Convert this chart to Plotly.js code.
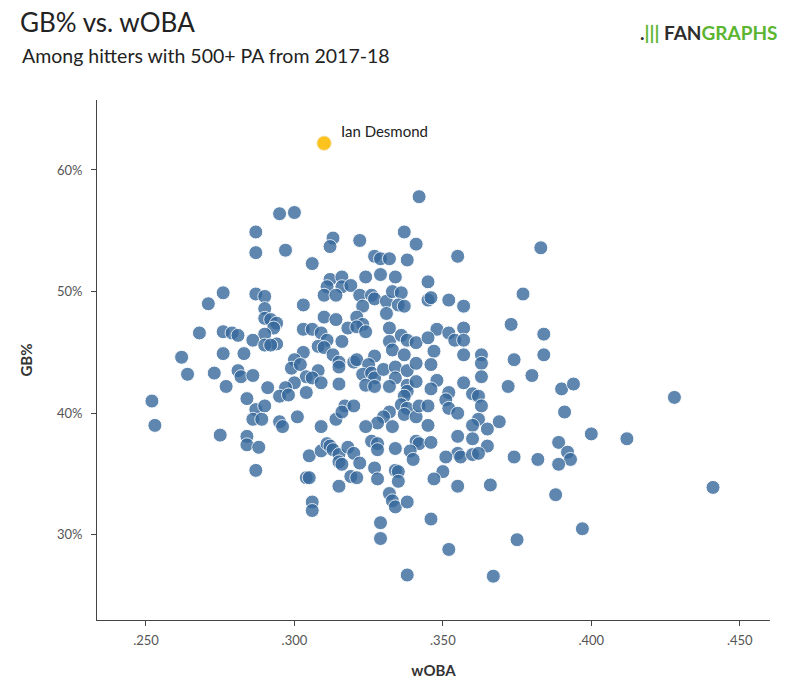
<!DOCTYPE html>
<html><head><meta charset="utf-8">
<script src="https://cdn.plot.ly/plotly-3.0.1.min.js"></script>
<style>body{margin:0;background:#fff}#chart{width:800px;height:700px}</style>
</head><body><div id="chart"></div>
<script>
const woba = [
.295,.300,.287,.287,.297,.313,.312,.306,.312,.316,
.342,.337,.322,.341,.327,.329,.332,.338,.355,.324,
.329,.334,.345,.383,.276,.271,.268,.276,.279,.281,
.262,.276,.283,.264,.273,.281,.282,.277,.252,.253,
.284,.287,.290,.311,.316,.319,.310,.314,.290,.303,
.290,.292,.294,.293,.310,.314,.290,.286,.294,.290,
.292,.303,.306,.309,.311,.308,.310,.316,.318,.303,
.300,.299,.302,.313,.315,.315,.320,.286,.308,.304,
.306,.309,.300,.297,.295,.298,.291,.304,.315,.287,
.290,.286,.289,.295,.296,.301,.309,.314,.317,.316,
.322,.326,.323,.327,.331,.333,.336,.335,.337,.331,
.345,.346,.352,.357,.321,.323,.321,.324,.332,.332,
.336,.338,.341,.333,.348,.352,.354,.357,.345,.347,
.357,.337,.327,.321,.325,.323,.326,.327,.324,.327,
.330,.334,.338,.341,.346,.334,.332,.338,.338,.341,
.337,.348,.346,.357,.352,.351,.352,.355,.336,.338,
.337,.341,.342,.345,.332,.330,.328,.324,.333,.345,
.320,.377,.373,.384,.357,.363,.363,.374,.384,.363,
.380,.372,.390,.394,.428,.360,.362,.363,.391,.362,
.360,.365,.369,.400,.275,.284,.284,.288,.305,.309,
.311,.312,.313,.315,.315,.316,.318,.319,.304,.305,
.315,.306,.306,.287,.326,.328,.328,.334,.341,.342,
.339,.340,.346,.355,.355,.356,.351,.320,.322,.327,
.321,.328,.334,.335,.335,.350,.347,.355,.332,.333,
.334,.338,.329,.346,.329,.352,.338,.360,.365,.360,
.362,.374,.382,.389,.392,.393,.389,.412,.366,.388,
.441,.397,.375,.367
];
const gbPct = [
56.4,56.5,54.9,53.2,53.4,54.4,53.7,52.3,51.0,51.2,
57.8,54.9,54.2,53.9,52.9,52.7,52.7,52.6,52.9,51.2,
51.4,51.2,50.8,53.6,49.9,49.0,46.6,46.7,46.6,46.4,
44.6,44.9,44.9,43.2,43.3,43.5,43.0,42.2,41.0,39.0,
41.2,49.8,49.6,50.4,50.4,50.5,49.7,49.7,48.6,48.9,
47.8,47.7,47.4,47.0,47.9,47.7,46.5,46.0,45.7,45.6,
45.6,46.9,46.9,46.6,46.0,45.5,45.4,45.9,47.0,45.0,
44.4,43.7,44.0,44.8,44.2,43.8,44.2,43.1,43.5,43.0,
42.9,42.5,42.5,42.1,41.4,41.5,42.1,41.7,42.4,40.3,
40.6,39.5,39.5,39.3,38.9,39.7,38.9,39.5,40.6,40.1,
49.7,49.7,48.8,49.4,49.2,50.0,49.9,48.9,48.8,48.2,
49.3,49.5,49.3,48.8,47.9,47.3,47.1,46.7,47.0,45.9,
46.4,46.0,45.8,45.2,46.9,46.6,46.0,47.0,46.2,45.1,
44.8,44.8,44.7,44.4,44.0,43.2,43.3,42.9,42.3,42.2,
43.6,43.8,43.5,44.1,44.0,42.9,42.2,42.3,41.8,42.6,
41.4,42.7,42.0,42.5,41.7,41.1,40.4,40.0,40.7,40.4,
39.9,39.7,40.6,40.6,40.1,39.7,39.2,38.9,38.9,39.0,
40.6,49.8,47.3,46.5,46.0,44.8,44.1,44.4,44.8,43.0,
43.1,42.2,42.0,42.4,41.3,41.6,41.4,40.6,40.1,39.5,
39.0,38.7,39.3,38.3,38.2,38.1,37.4,37.2,36.5,36.9,
37.5,37.3,37.0,36.6,36.0,35.8,37.2,34.8,34.7,34.7,
34.0,32.7,32.0,35.3,37.7,37.5,37.0,37.1,37.7,37.5,
36.9,36.2,37.6,38.1,36.7,36.4,36.4,36.7,35.9,35.5,
34.7,34.6,35.3,35.2,34.4,35.2,34.6,34.0,33.4,32.8,
32.3,32.7,31.0,31.3,29.7,28.8,26.7,37.9,37.3,36.6,
36.7,36.4,36.2,37.6,36.8,36.2,35.8,37.9,34.1,33.3,
33.9,30.5,29.6,26.6
];
const highlightName = ['Ian Desmond'];
const highlightWoba = [0.310];
const highlightGb = [62.2];
const xTickVals = [0.25, 0.30, 0.35, 0.40, 0.45];
const xTickText = ['.250', '.300', '.350', '.400', '.450'];
const yTickVals = [30, 40, 50, 60];
const yTickText = ['30%', '40%', '50%', '60%'];

const FONT = 'Lato, "Open Sans", sans-serif';

const traces = [
  {
    type: 'scatter', mode: 'markers', x: woba, y: gbPct, hoverinfo: 'x+y',
    marker: {size: 14, color: '#36699c', opacity: 0.8, line: {color: '#ffffff', width: 1}},
    showlegend: false
  },
  {
    type: 'scatter', mode: 'markers', x: highlightWoba, y: highlightGb, text: highlightName,
    marker: {size: 14, color: '#fcc31c', opacity: 1, line: {color: '#f2d98a', width: 1}},
    showlegend: false
  }
];

const layout = {
  width: 800, height: 700,
  paper_bgcolor: '#ffffff', plot_bgcolor: '#ffffff',
  margin: {l: 97, r: 30, t: 100, b: 80},
  font: {family: FONT, color: '#333'},
  title: {text: 'GB% vs. wOBA', x: 20/800, xanchor: 'left', xref: 'container',
          y: 1 - 23/700, yanchor: 'middle', yref: 'container',
          font: {family: FONT, size: 26, color: '#222'}},
  xaxis: {
    range: [0.2335, 0.4602], tickvals: xTickVals, ticktext: xTickText,
    showgrid: false, zeroline: false, showline: true, linecolor: '#444', linewidth: 1,
    ticks: 'outside', ticklen: 5, tickcolor: '#444', ticklabelstandoff: 3,
    tickfont: {family: FONT, size: 13, color: '#555'},
    title: {text: '<b>wOBA</b>', font: {family: FONT, size: 15, color: '#333'}, standoff: 18}
  },
  yaxis: {
    range: [23.0, 65.75], tickvals: yTickVals, ticktext: yTickText,
    showgrid: false, zeroline: false, showline: true, linecolor: '#444', linewidth: 1,
    ticks: 'outside', ticklen: 5, tickcolor: '#444', ticklabelstandoff: 6,
    tickfont: {family: FONT, size: 13, color: '#555'},
    title: {text: '<b>GB%</b>', font: {family: FONT, size: 15, color: '#333'}, standoff: 20}
  },
  annotations: [
    {text: 'Among hitters with 500+ PA from 2017-18', xref: 'paper', yref: 'paper',
     x: -77/673, y: 1 + 45/520, xanchor: 'left', yanchor: 'middle', showarrow: false,
     font: {family: FONT, size: 19.5, color: '#222'}},
    {text: highlightName[0], x: highlightWoba[0], y: highlightGb[0], xref: 'x', yref: 'y',
     xanchor: 'left', yanchor: 'middle', xshift: 15, yshift: 12, showarrow: false,
     font: {family: FONT, size: 15, color: '#222'}},
    {text: '<b><span style="color:#2e2e2e">.</span><span style="color:#5cb531">|||</span> <span style="color:#2e2e2e">FAN</span><span style="color:#5cb531">GRAPHS</span></b>',
     xref: 'paper', yref: 'paper', x: 1 + 10/673, y: 1 + 68/520, xanchor: 'right', yanchor: 'middle',
     showarrow: false, font: {family: FONT, size: 19}}
  ]
};

Plotly.newPlot('chart', traces, layout, {displayModeBar: false, staticPlot: true});
</script>
</body></html>
